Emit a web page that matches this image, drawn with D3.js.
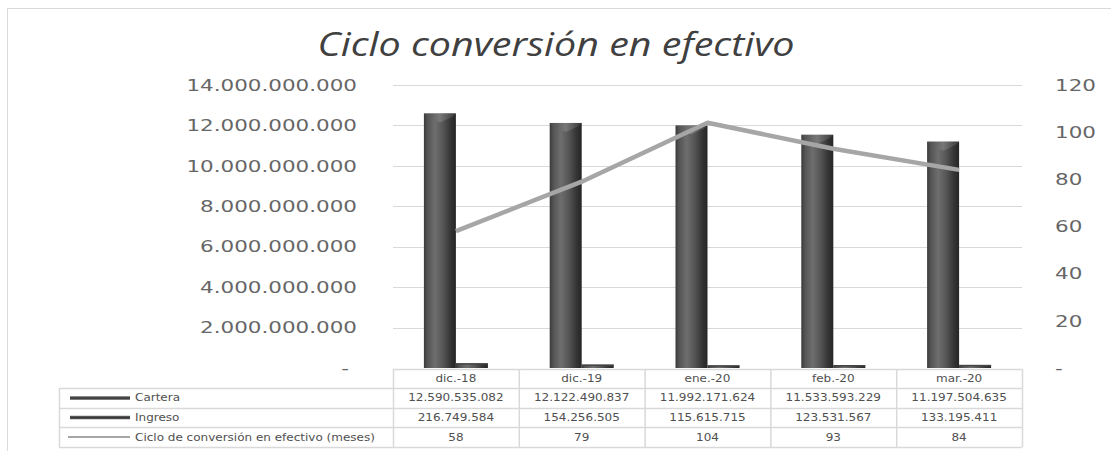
<!DOCTYPE html>
<html lang="es">
<head>
<meta charset="UTF-8">
<title>Ciclo conversión en efectivo</title>
<style>
  body { margin: 0; background: #fff; }
  svg { display: block; }
</style>
</head>
<body>
<div id="chart"></div>
<script src="https://d3js.org/d3.v7.min.js"></script>
<script>
const categories = ["dic.-18", "dic.-19", "ene.-20", "feb.-20", "mar.-20"];
const cartera = [12590535082, 12122490837, 11992171624, 11533593229, 11197504635];
const ingreso = [216749584, 154256505, 115615715, 123531567, 133195411];
const ciclo = [58, 79, 104, 93, 84];
const leftTicks = [0, 2e9, 4e9, 6e9, 8e9, 10e9, 12e9, 14e9];
const rightTicks = [0, 20, 40, 60, 80, 100, 120];
const seriesNames = ["Cartera", "Ingreso", "Ciclo de conversión en efectivo (meses)"];

const W = 1111, H = 451;
const x0 = 393, x1 = 1022, yTop = 85, yBot = 368;

const loc = d3.formatLocale({ decimal: ",", thousands: ".", grouping: [3], currency: ["", ""] });
const fmt = loc.format(",d");

const svg = d3.select("#chart").append("svg")
  .attr("width", W).attr("height", H);

// horizontal stretch of text, the original picture is wider than tall
function stretch(sel, k) {
  sel.each(function () {
    const w = this.getComputedTextLength();
    d3.select(this).attr("textLength", w * k).attr("lengthAdjust", "spacingAndGlyphs");
  });
}

const defs = svg.append("defs");
const grad = defs.append("linearGradient").attr("id", "cyl").attr("x1", "0").attr("x2", "1").attr("y1", "0").attr("y2", "0");
[["0%", "#3a3a3a"], ["12%", "#555"], ["35%", "#6e6e6e"], ["60%", "#555"], ["85%", "#333"], ["100%", "#262626"]]
  .forEach(s => grad.append("stop").attr("offset", s[0]).attr("stop-color", s[1]));
const capGrad = defs.append("linearGradient").attr("id", "cap").attr("x1", "0").attr("x2", "1");
[["0%", "#4a4a4a"], ["50%", "#7a7a7a"], ["100%", "#3a3a3a"]]
  .forEach(s => capGrad.append("stop").attr("offset", s[0]).attr("stop-color", s[1]));
const keyGrad = defs.append("linearGradient").attr("id", "key").attr("x1", "0").attr("x2", "0").attr("y1", "0").attr("y2", "1");
[["0%", "#6a6a6a"], ["50%", "#3a3a3a"], ["100%", "#555"]]
  .forEach(s => keyGrad.append("stop").attr("offset", s[0]).attr("stop-color", s[1]));

// outer chart border
svg.append("rect").attr("x", 7.5).attr("y", 8.5).attr("width", W + 10).attr("height", H + 10)
  .attr("fill", "none").attr("stroke", "#d9d9d9");

// title
svg.append("text").attr("x", 556).attr("y", 56).attr("text-anchor", "middle")
  .attr("font-family", "Open Sans").attr("font-style", "italic").attr("font-size", 32)
  .attr("fill", "#404040").text("Ciclo conversión en efectivo")
  .attr("textLength", 477).attr("lengthAdjust", "spacingAndGlyphs");

const x = d3.scaleBand().domain(categories).range([x0, x1]);
const yL = d3.scaleLinear().domain([0, 14e9]).range([yBot, yTop]);
const yR = d3.scaleLinear().domain([0, 120]).range([yBot, yTop]);

// gridlines
svg.append("g").selectAll("line").data(leftTicks.filter(d => d > 0)).join("line")
  .attr("x1", x0).attr("x2", x1)
  .attr("y1", d => Math.round(yL(d)) + 0.5).attr("y2", d => Math.round(yL(d)) + 0.5)
  .attr("stroke", "#d9d9d9").attr("stroke-width", 1);

// left axis
const axL = svg.append("g").attr("transform", `translate(357,0)`)
  .call(d3.axisLeft(yL).tickValues(leftTicks).tickSize(0).tickPadding(0)
    .tickFormat(d => d === 0 ? "-" : fmt(d)));
axL.select(".domain").remove();
axL.selectAll("text").attr("font-family", "DejaVu Sans").attr("font-size", 16.5)
  .attr("fill", "#666").attr("text-anchor", "end")
  .attr("dx", d => d === 0 ? -8 : 0)
  .call(stretch, 1.3);

// right axis
const axR = svg.append("g").attr("transform", `translate(1055,0)`)
  .call(d3.axisRight(yR).tickValues(rightTicks).tickSize(0).tickPadding(0)
    .tickFormat(d => d === 0 ? "-" : d));
axR.select(".domain").remove();
axR.selectAll("text").attr("font-family", "DejaVu Sans").attr("font-size", 16.5)
  .attr("fill", "#666").attr("text-anchor", "start")
  .call(stretch, 1.3);

// bars
const bw = 32;
const barData = [];
categories.forEach((c, i) => {
  barData.push({ c, v: cartera[i], off: -bw });
  barData.push({ c, v: ingreso[i], off: 0 });
});
const cx = c => x(c) + x.bandwidth() / 2;
const bars = svg.append("g").selectAll("g").data(barData).join("g");
bars.append("rect")
  .attr("x", d => cx(d.c) + d.off)
  .attr("y", d => yL(d.v))
  .attr("width", bw)
  .attr("height", d => yBot - yL(d.v))
  .attr("fill", "url(#cyl)");
bars.filter(d => d.off < 0).append("path")
  .attr("d", d => {
    const xl = cx(d.c) + d.off, yt = yL(d.v);
    return `M${xl},${yt}L${xl + bw},${yt}L${xl + bw - 3},${yt + 3}L${xl + bw / 2},${yt + 9}L${xl + 3},${yt + 3}Z`;
  })
  .attr("fill", "url(#cap)").attr("opacity", 0.9);
bars.filter(d => d.off === 0).append("rect")
  .attr("x", d => cx(d.c)).attr("y", d => yL(d.v) - 0.5)
  .attr("width", bw).attr("height", 1.5).attr("fill", "#444");

// line
svg.append("path").datum(ciclo)
  .attr("fill", "none").attr("stroke", "#a6a6a6").attr("stroke-width", 4.5)
  .attr("stroke-linejoin", "round")
  .attr("d", d3.line().x((d, i) => cx(categories[i])).y(d => yR(d)));

// data table
const rowTop = [369, 388, 407.5, 427, 447];
const tableLeft = 59;
const tg = svg.append("g");
const gridC = "#d9d9d9";
// horizontal lines
rowTop.forEach((yy, i) => {
  tg.append("line").attr("x1", i === 0 ? x0 : tableLeft).attr("x2", x1)
    .attr("y1", Math.round(yy) + 0.5).attr("y2", Math.round(yy) + 0.5)
    .attr("stroke", gridC).attr("stroke-width", 1.5);
});
// vertical lines
tg.append("line").attr("x1", tableLeft + 0.5).attr("x2", tableLeft + 0.5)
  .attr("y1", rowTop[1]).attr("y2", rowTop[4]).attr("stroke", gridC).attr("stroke-width", 1.5);
categories.concat(["end"]).forEach(c => {
  const xx = c === "end" ? x1 : x(c);
  tg.append("line").attr("x1", xx + 0.5).attr("x2", xx + 0.5)
    .attr("y1", rowTop[0]).attr("y2", rowTop[4]).attr("stroke", gridC).attr("stroke-width", 1.5);
});

const cellText = (xx, yy, t, anchor) => tg.append("text")
  .attr("x", xx).attr("y", yy).attr("text-anchor", anchor || "middle")
  .attr("dy", "0.35em").attr("font-family", "DejaVu Sans").attr("font-size", 10)
  .attr("fill", "#505050").text(t).call(stretch, 1.2);

const mid = i => (rowTop[i] + rowTop[i + 1]) / 2;
categories.forEach(c => cellText(cx(c), mid(0), c));
const rows = [cartera.map(fmt), ingreso.map(fmt), ciclo.map(String)];
rows.forEach((r, ri) => {
  r.forEach((t, i) => cellText(cx(categories[i]), mid(ri + 1), t));
  cellText(135, mid(ri + 1), seriesNames[ri], "start");
});
// legend keys
[0, 1].forEach(ri => {
  tg.append("rect").attr("x", 70).attr("y", mid(ri + 1) - 1.5).attr("width", 60).attr("height", 3.5)
    .attr("fill", "url(#key)");
});
tg.append("line").attr("x1", 68).attr("x2", 130).attr("y1", mid(3)).attr("y2", mid(3))
  .attr("stroke", "#a6a6a6").attr("stroke-width", 2);
</script>
</body>
</html>
